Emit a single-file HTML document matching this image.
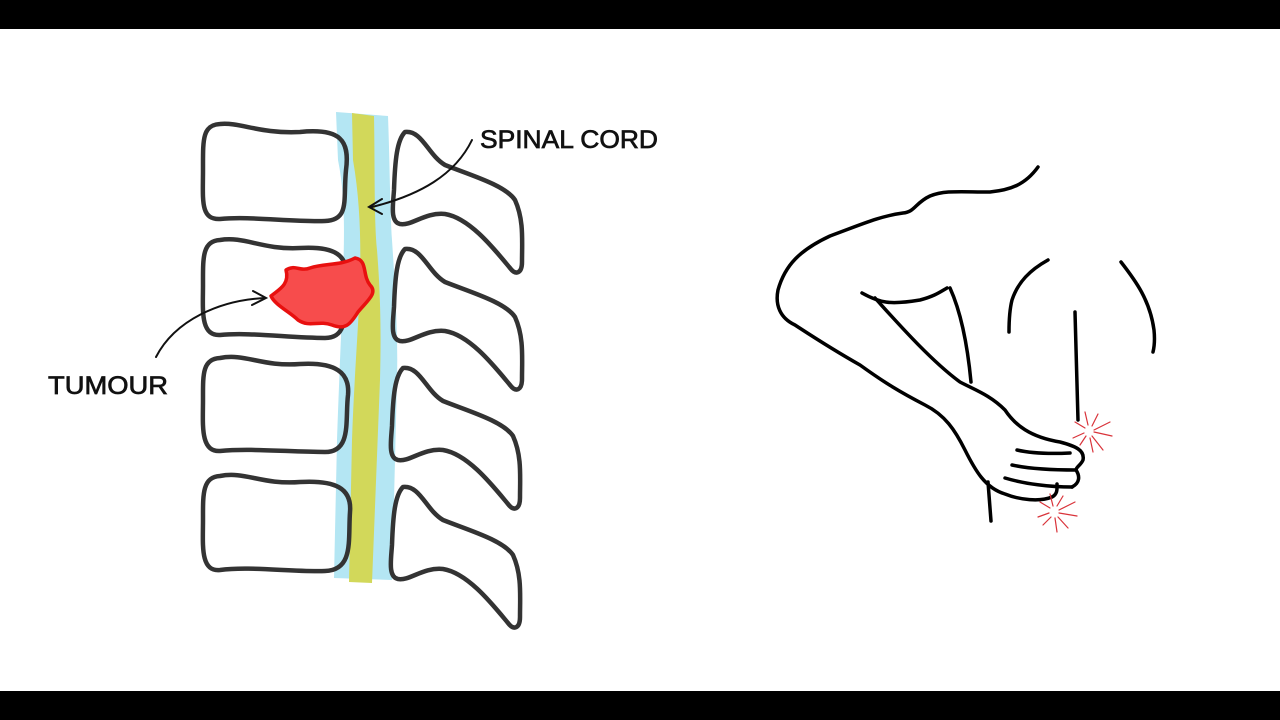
<!DOCTYPE html>
<html><head><meta charset="utf-8"><style>
html,body{margin:0;padding:0;background:#fff;width:1280px;height:720px;overflow:hidden}
svg{display:block}
</style></head><body>
<svg width="1280" height="720" viewBox="0 0 1280 720" xmlns="http://www.w3.org/2000/svg">
<rect x="0" y="0" width="1280" height="29" fill="#000"/>
<rect x="0" y="691" width="1280" height="29" fill="#000"/>
<!-- canal -->
<path d="M336,112 L388,116 C390,170 390,210 392,240 C396,300 398,340 397,380 L392,580 L334,578 L337,440 C339,380 342,320 343,280 C344,240 346,200 338,160 Z" fill="#b4e6f3"/>
<path d="M352,113 L374,116 C375,170 374,220 377,250 C381,300 381,340 380,380 L372,583 L349,582 L352,440 C354,380 359,320 360,280 C361,240 360,200 353,160 Z" fill="#d2d85a"/>
<g fill="none" stroke="#333" stroke-width="4.5" stroke-linejoin="round" stroke-linecap="round">
<!-- bodies -->
<path d="M220,124 C240,122 260,134 300,132 C340,128 350,140 346,170 C343,200 350,220 325,221 C290,222 250,216 220,219 C200,220 203,200 203,170 C203,140 202,125 220,124 Z"/>
<path d="M220,240 C245,236 262,250 300,248 C335,246 349,255 346,280 C344,310 350,338 325,338 C290,338 250,332 220,335 C200,336 203,310 203,285 C203,258 202,241 220,240 Z"/>
<path d="M220,358 C245,353 262,367 300,364 C335,362 350,372 348,395 C345,420 352,452 325,452 C290,452 250,448 220,451 C200,452 203,425 203,400 C203,375 202,359 220,358 Z"/>
<path d="M220,476 C245,471 262,485 300,482 C335,480 352,488 350,512 C348,540 354,570 325,571 C290,572 250,566 220,570 C200,572 203,545 203,520 C203,495 202,477 220,476 Z"/>
<!-- processes -->
<path id="pr" d="M405,132 C397,140 395,160 394,190 C393,205 390,222 400,224 C412,226 425,212 445,214 C470,218 495,250 510,268 C516,276 522,273 522,262 C522,240 524,220 515,200 C505,185 470,175 445,165 C428,155 422,130 405,132 Z"/>
<use href="#pr" transform="translate(0,117)"/>
<use href="#pr" transform="translate(-2,236)"/>
<use href="#pr" transform="translate(-2,355)"/>
</g>
<!-- tumour -->
<path d="M286,270 C295,264 300,272 310,268 C325,263 340,266 355,258 C368,260 362,275 370,285 C378,293 368,300 358,312 C350,325 345,330 332,325 C318,320 310,328 298,320 C290,312 275,305 271,296 C278,290 290,285 286,270 Z" fill="#f74c4c" stroke="#e8100f" stroke-width="3.5" stroke-linejoin="round"/>
<!-- arrows -->
<g fill="none" stroke="#111" stroke-width="2" stroke-linecap="round">
<path d="M472,140 C455,175 420,195 372,207"/>
<path d="M382,199 L369,207 L382,214"/>
<path d="M156,357 C175,320 220,300 265,298"/>
<path d="M253,291 L266,298 L252,305"/>
</g>
<text x="480" y="148" font-family="Liberation Sans, sans-serif" font-size="25" fill="#111" stroke="#111" stroke-width="0.7" textLength="178" lengthAdjust="spacingAndGlyphs">SPINAL CORD</text>
<text x="48" y="394" font-family="Liberation Sans, sans-serif" font-size="25" fill="#111" stroke="#111" stroke-width="0.7" textLength="120" lengthAdjust="spacingAndGlyphs">TUMOUR</text>
<!-- figure -->
<g fill="none" stroke="#000" stroke-width="3.5" stroke-linecap="round" stroke-linejoin="round">
<path d="M1038,167 C1025,185 1010,190 990,192 C960,192 945,190 930,196 C915,203 915,212 903,213 C880,216 860,225 830,236 C800,250 785,265 778,290 C775,305 780,318 795,325 C815,338 830,348 860,365 C885,383 900,392 925,405 C945,415 955,430 965,450 C975,470 985,488 1005,494 C1020,500 1040,502 1052,497 C1058,494 1057,488 1057,484"/>
<path d="M862,293 C880,303 890,305 920,300 C935,296 940,292 947,288"/>
<path d="M950,288 C960,310 967,340 971,382"/>
<path d="M875,298 C895,320 930,360 960,382 C975,390 990,395 1005,410 C1015,425 1030,437 1060,442 C1075,446 1085,450 1083,460 C1081,465 1076,467 1076,470 C1080,476 1080,483 1072,487"/>
<path d="M1017,450 C1030,453 1050,454 1070,453"/>
<path d="M1012,465 C1030,469 1055,470 1076,470"/>
<path d="M1005,478 C1025,484 1050,487 1072,487"/>
<path d="M988,482 L991,521"/>
<path d="M1075,312 L1078,420"/>
<path d="M1048,260 C1030,270 1018,282 1012,300 C1009,312 1009,325 1009,332"/>
<path d="M1121,262 C1135,280 1150,300 1154,330 C1155,340 1154,348 1153,352"/>
</g>
<g stroke="#d9333a" stroke-width="1.2" stroke-linecap="round">
<path d="M1094,430 L1110,422 M1094,432 L1112,436 M1092,436 L1103,450 M1090,438 L1093,452 M1086,436 L1080,445 M1084,433 L1073,438 M1085,428 L1075,422 M1088,425 L1085,412 M1092,426 L1098,414"/>
<path d="M1059,510 L1075,502 M1059,513 L1077,516 M1058,517 L1068,528 M1055,518 L1057,532 M1051,517 L1043,525 M1049,513 L1038,517 M1050,508 L1040,502 M1053,506 L1050,494 M1057,506 L1063,496"/>
</g>
</svg>
</body></html>
